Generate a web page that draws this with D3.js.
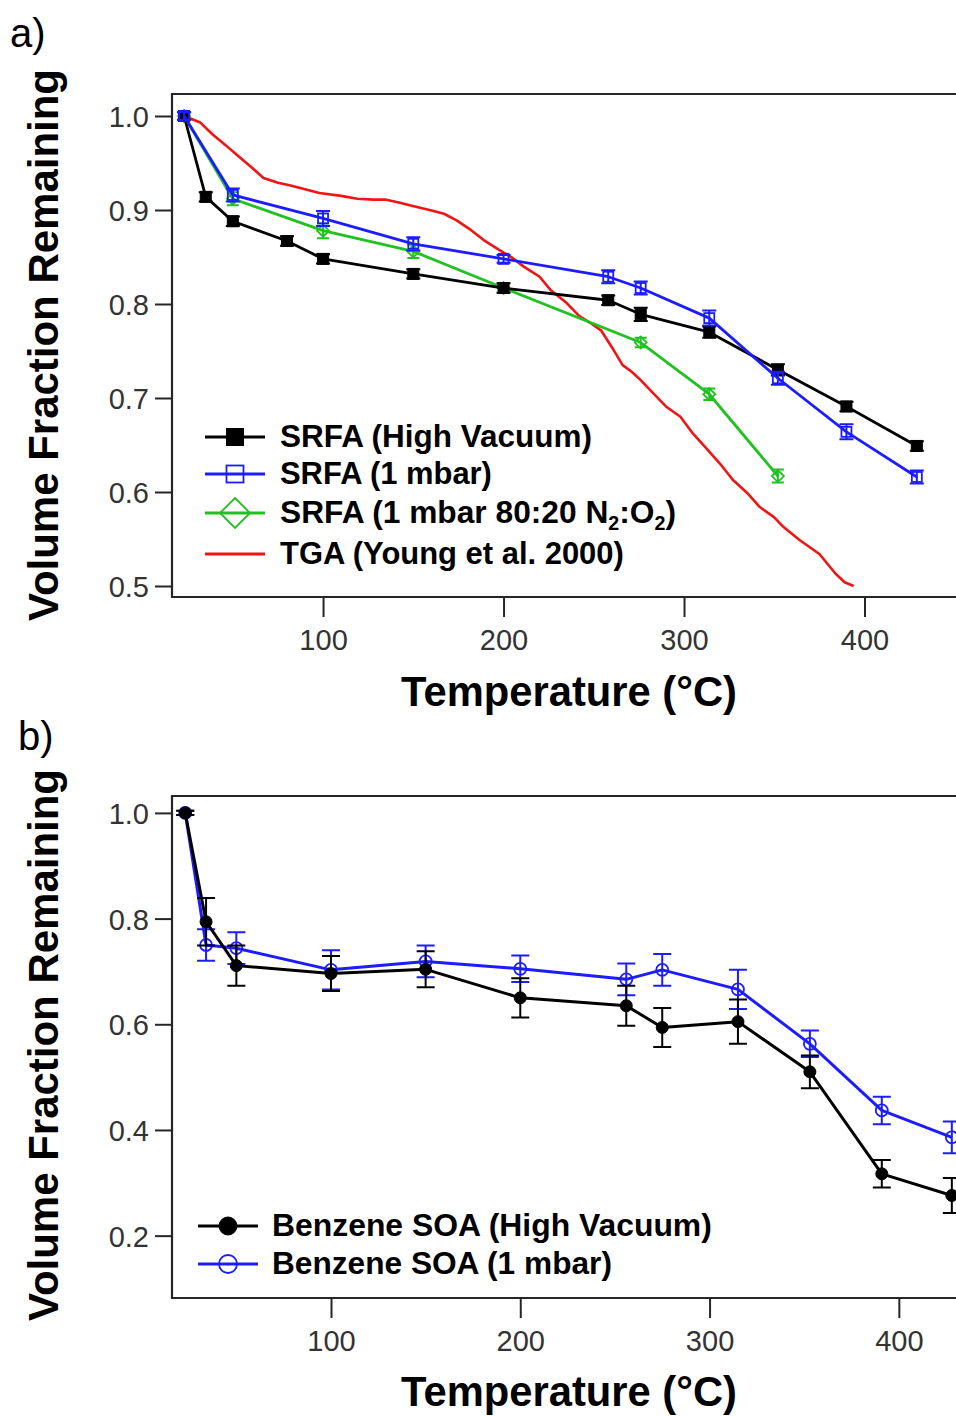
<!DOCTYPE html>
<html><head><meta charset="utf-8">
<script src="https://cdn.jsdelivr.net/npm/d3@7"></script>
<style>
html,body{margin:0;padding:0;background:#fff;}
svg{display:block;}
text{font-family:"Liberation Sans",Arial,sans-serif;}
</style></head>
<body>
<svg id="chart" width="956" height="1416"></svg>
<script>
// ---------------- DATA ----------------
// Panel a: SRFA
const tempA = [23, 35, 50, 80, 100, 150, 200, 258, 276, 314, 352, 390, 429];
const srfaHighVac = [1.0, 0.914, 0.888, 0.867, 0.848, 0.832, 0.817, 0.804, 0.789, 0.770, 0.730, 0.691, 0.649];
const srfaHighVacErr = [0.004, 0.005, 0.005, 0.005, 0.005, 0.005, 0.005, 0.005, 0.007, 0.006, 0.006, 0.005, 0.005];
const tempA1mbar = [23, 50, 100, 150, 200, 258, 276, 314, 352, 390, 429];
const srfa1mbar = [1.0, 0.916, 0.891, 0.864, 0.848, 0.829, 0.817, 0.785, 0.721, 0.664, 0.616];
const srfa1mbarErr = [0.004, 0.007, 0.008, 0.007, 0.004, 0.007, 0.007, 0.008, 0.007, 0.008, 0.007];
const tempAN2O2 = [23, 50, 100, 150, 200, 276, 314, 352];
const srfaN2O2 = [1.0, 0.912, 0.878, 0.856, 0.817, 0.759, 0.704, 0.617];
const srfaN2O2Err = [0.004, 0.007, 0.008, 0.007, 0.005, 0.005, 0.006, 0.007];
const tgaTemp = [23, 32, 39, 46, 52, 60, 67, 75, 82, 90, 98, 110, 119, 128, 135, 142, 148, 159, 167, 174, 181, 189, 198, 205, 211, 216, 220, 226, 235, 242, 248, 254, 261, 266, 271, 276, 283, 290, 298, 305, 313, 320, 327, 335, 342, 350, 355, 364, 375, 384, 389, 394];
const tgaVal = [1.0, 0.993, 0.980, 0.969, 0.959, 0.946, 0.934, 0.929, 0.926, 0.922, 0.918, 0.915, 0.912, 0.911, 0.911, 0.908, 0.905, 0.900, 0.896, 0.889, 0.880, 0.868, 0.857, 0.849, 0.840, 0.834, 0.829, 0.815, 0.801, 0.787, 0.780, 0.772, 0.751, 0.735, 0.728, 0.719, 0.705, 0.691, 0.680, 0.662, 0.645, 0.630, 0.613, 0.599, 0.584, 0.573, 0.563, 0.549, 0.534, 0.513, 0.504, 0.500];
const yTicksA = [0.5, 0.6, 0.7, 0.8, 0.9, 1.0];
const xTicks = [100, 200, 300, 400];
const legendA = ["SRFA (High Vacuum)", "SRFA (1 mbar)", "SRFA (1 mbar 80:20 N\u2082:O\u2082)", "TGA (Young et al. 2000)"];

// Panel b: Benzene SOA
const tempB = [23, 34, 50, 100, 150, 200, 256, 275, 315, 353, 391, 428];
const benzHighVac = [1.0, 0.794, 0.711, 0.696, 0.704, 0.650, 0.635, 0.594, 0.605, 0.510, 0.317, 0.276];
const benzHighVacErr = [0.004, 0.045, 0.038, 0.033, 0.034, 0.037, 0.038, 0.037, 0.042, 0.031, 0.026, 0.033];
const benz1mbar = [1.0, 0.750, 0.744, 0.703, 0.719, 0.705, 0.685, 0.703, 0.666, 0.563, 0.437, 0.386];
const benz1mbarErr = [0.004, 0.030, 0.030, 0.037, 0.030, 0.025, 0.030, 0.030, 0.037, 0.025, 0.026, 0.030];
const yTicksB = [0.2, 0.4, 0.6, 0.8, 1.0];
const legendB = ["Benzene SOA (High Vacuum)", "Benzene SOA (1 mbar)"];

// ---------------- STYLE / LAYOUT ----------------
const BLACK = "#000000", BLUE = "#1c1cff", GREEN = "#1fc21f", RED = "#f01414";
const AXIS = "#262626", TICKTXT = "#333333";
const svg = d3.select("#chart");

function fitWidth(sel, target) {
  const w = sel.node().getComputedTextLength();
  const fs = parseFloat(sel.attr("font-size"));
  sel.attr("font-size", (fs * target / w).toFixed(2));
}

function drawFrame(g, x, y, yTicks, fmt) {
  const [x0, x1] = x.range();
  const [yb, yt] = y.range();
  g.append("path")
    .attr("d", `M${x1 + 5},${yt}H${x0}V${yb}H${x1 + 5}`)
    .attr("fill", "none").attr("stroke", AXIS).attr("stroke-width", 2.2);
  // y axis ticks
  const ya = g.append("g").attr("transform", `translate(${x0},0)`)
    .call(d3.axisLeft(y).tickValues(yTicks).tickFormat(fmt).tickSize(17).tickPadding(6));
  ya.select(".domain").remove();
  ya.selectAll(".tick line").attr("stroke", AXIS).attr("stroke-width", 2);
  ya.selectAll(".tick text").attr("font-size", 29).attr("fill", TICKTXT)
    .attr("font-family", "Liberation Sans, Arial, sans-serif").attr("dy", "0.36em");
  const xa = g.append("g").attr("transform", `translate(0,${yb})`)
    .call(d3.axisBottom(x).tickValues(xTicks).tickFormat(d3.format("d")).tickSize(20).tickPadding(12));
  xa.select(".domain").remove();
  xa.selectAll(".tick line").attr("stroke", AXIS).attr("stroke-width", 2);
  xa.selectAll(".tick text").attr("font-size", 29).attr("fill", TICKTXT)
    .attr("font-family", "Liberation Sans, Arial, sans-serif");
}

function markerSquare(g, cx, cy, s, color, filled) {
  g.append("rect").attr("x", cx - s / 2).attr("y", cy - s / 2).attr("width", s).attr("height", s)
    .attr("fill", filled ? color : "none").attr("stroke", color).attr("stroke-width", filled ? 1 : 1.8);
}
function markerDiamond(g, cx, cy, s, color) {
  const h = s / 2;
  g.append("path").attr("d", `M${cx},${cy - h}L${cx + h},${cy}L${cx},${cy + h}L${cx - h},${cy}Z`)
    .attr("fill", "none").attr("stroke", color).attr("stroke-width", 1.8);
}
function markerCircle(g, cx, cy, r, color, filled) {
  g.append("circle").attr("cx", cx).attr("cy", cy).attr("r", r)
    .attr("fill", filled ? color : "none").attr("stroke", color).attr("stroke-width", filled ? 1 : 1.8);
}

function series(g, x, y, xs, ys, errs, color, marker, opt) {
  const pts = xs.map((t, i) => ({ t, v: ys[i], e: errs ? errs[i] : 0 }));
  g.append("path").datum(pts)
    .attr("d", d3.line().x(d => x(d.t)).y(d => y(d.v)))
    .attr("fill", "none").attr("stroke", color).attr("stroke-width", opt.lw || 3)
    .attr("stroke-linejoin", "round");
  if (!marker) return;
  const cap = opt.cap || 6;
  pts.forEach(d => {
    if (d.e > 0) {
      const cx = x(d.t), ya = y(d.v + d.e), yb = y(d.v - d.e);
      g.append("path").attr("d", `M${cx},${ya}V${yb}M${cx - cap},${ya}H${cx + cap}M${cx - cap},${yb}H${cx + cap}`)
        .attr("stroke", color).attr("stroke-width", 2).attr("fill", "none");
    }
    marker(g, x(d.t), y(d.v));
  });
}

// ================= PANEL A =================
const xA = d3.scaleLinear().domain([16.3, 450.7]).range([172, 956]);
const yA = d3.scaleLinear().domain([0.4883, 1.0234]).range([597, 94]);
const gA = svg.append("g");

svg.append("text").attr("x", 10).attr("y", 47).attr("font-size", 40)
  .attr("font-family", "Open Sans, Noto Sans, sans-serif").attr("fill", "#000").text("a)");

drawFrame(gA, xA, yA, yTicksA, d3.format(".1f"));

const plotA = gA.append("g");
series(plotA, xA, yA, tgaTemp, tgaVal, null, RED, null, { lw: 2.6 });
series(plotA, xA, yA, tempAN2O2, srfaN2O2, srfaN2O2Err, GREEN, (g, cx, cy) => markerDiamond(g, cx, cy, 12, GREEN), { lw: 2.8, cap: 6 });
series(plotA, xA, yA, tempA, srfaHighVac, srfaHighVacErr, BLACK, (g, cx, cy) => markerSquare(g, cx, cy, 11, BLACK, true), { lw: 2.8, cap: 7 });
series(plotA, xA, yA, tempA1mbar, srfa1mbar, srfa1mbarErr, BLUE, (g, cx, cy) => markerSquare(g, cx, cy, 10, BLUE, false), { lw: 2.8, cap: 7 });

// legend A
const legA = gA.append("g");
const legAY = [437, 474, 513, 554];
const legAColors = [BLACK, BLUE, GREEN, RED];
const legATargets = [312, 212, 396, 344];
legendA.forEach((lab, i) => {
  const yy = legAY[i];
  legA.append("line").attr("x1", 205).attr("x2", 265).attr("y1", yy).attr("y2", yy)
    .attr("stroke", legAColors[i]).attr("stroke-width", 3);
  if (i === 0) markerSquare(legA, 235, yy, 17, BLACK, true);
  if (i === 1) markerSquare(legA, 235, yy, 17, BLUE, false);
  if (i === 2) markerDiamond(legA, 235, yy, 30, GREEN);
  let t;
  if (i === 2) {
    t = legA.append("text").attr("x", 280).attr("y", yy + 10).attr("font-size", 28).attr("font-weight", "bold").attr("fill", "#000");
    t.append("tspan").text("SRFA (1 mbar 80:20 N");
    t.append("tspan").attr("font-size", "62%").attr("dy", 7).text("2");
    t.append("tspan").attr("dy", -7).text(":O");
    t.append("tspan").attr("font-size", "62%").attr("dy", 7).text("2");
    t.append("tspan").attr("dy", -7).text(")");
  } else {
    t = legA.append("text").attr("x", 280).attr("y", yy + 10).attr("font-size", 28).attr("font-weight", "bold").attr("fill", "#000").text(lab);
  }
  fitWidth(t, legATargets[i]);
});

// axis titles A
const yTitleA = svg.append("text").attr("transform", "translate(58,345) rotate(-90)")
  .attr("text-anchor", "middle").attr("font-size", 36).attr("font-weight", "bold").attr("fill", "#000")
  .text("Volume Fraction Remaining");
fitWidth(yTitleA, 552);
const xTitleA = svg.append("text").attr("x", 569).attr("y", 706).attr("text-anchor", "middle")
  .attr("font-size", 38).attr("font-weight", "bold").attr("fill", "#000").text("Temperature (\u00B0C)");
fitWidth(xTitleA, 336);

// ================= PANEL B =================
const xB = d3.scaleLinear().domain([16, 430.2]).range([172, 956]);
const yB = d3.scaleLinear().domain([0.082, 1.032]).range([1298, 796]);
const gB = svg.append("g");

svg.append("text").attr("x", 18).attr("y", 750).attr("font-size", 40)
  .attr("font-family", "Open Sans, Noto Sans, sans-serif").attr("fill", "#000").text("b)");

drawFrame(gB, xB, yB, yTicksB, d3.format(".1f"));

const plotB = gB.append("g");
series(plotB, xB, yB, tempB, benz1mbar, benz1mbarErr, BLUE, (g, cx, cy) => markerCircle(g, cx, cy, 6, BLUE, false), { lw: 3, cap: 9 });
series(plotB, xB, yB, tempB, benzHighVac, benzHighVacErr, BLACK, (g, cx, cy) => markerCircle(g, cx, cy, 6, BLACK, true), { lw: 3, cap: 9 });

const legB = gB.append("g");
const legBY = [1226, 1264];
const legBColors = [BLACK, BLUE];
const legBTargets = [440, 340];
legendB.forEach((lab, i) => {
  const yy = legBY[i];
  legB.append("line").attr("x1", 198).attr("x2", 258).attr("y1", yy).attr("y2", yy)
    .attr("stroke", legBColors[i]).attr("stroke-width", 3);
  markerCircle(legB, 228, yy, 9, legBColors[i], i === 0);
  const t = legB.append("text").attr("x", 272).attr("y", yy + 10).attr("font-size", 28)
    .attr("font-weight", "bold").attr("fill", "#000").text(lab);
  fitWidth(t, legBTargets[i]);
});

const yTitleB = svg.append("text").attr("transform", "translate(58,1045) rotate(-90)")
  .attr("text-anchor", "middle").attr("font-size", 36).attr("font-weight", "bold").attr("fill", "#000")
  .text("Volume Fraction Remaining");
fitWidth(yTitleB, 552);
const xTitleB = svg.append("text").attr("x", 569).attr("y", 1406).attr("text-anchor", "middle")
  .attr("font-size", 38).attr("font-weight", "bold").attr("fill", "#000").text("Temperature (\u00B0C)");
fitWidth(xTitleB, 336);
</script>
</body></html>
